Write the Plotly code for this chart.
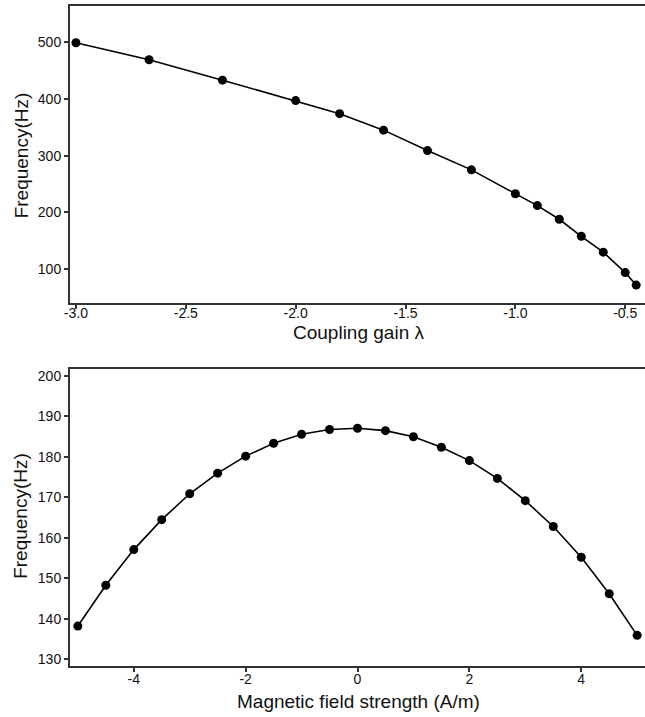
import plotly.graph_objects as go

# Frequency vs coupling gain
gain = [-3.0, -2.667, -2.333, -2.0, -1.8, -1.6, -1.4, -1.2, -1.0, -0.9, -0.8, -0.7, -0.6, -0.5, -0.45]
freq_gain = [499, 469, 433, 397, 374, 345, 309, 275, 233, 212, 188, 158, 130, 94, 72]

# Frequency vs magnetic field strength
field = [-5, -4.5, -4, -3.5, -3, -2.5, -2, -1.5, -1, -0.5, 0, 0.5, 1, 1.5, 2, 2.5, 3, 3.5, 4, 4.5, 5]
freq_field = [138.2, 148.3, 157.1, 164.5, 170.9, 176.0, 180.2, 183.4, 185.6, 186.8, 187.1,
              186.5, 185.0, 182.4, 179.1, 174.7, 169.2, 162.8, 155.2, 146.2, 135.9]

W, H = 645, 717
FONT = "Liberation Sans, Arial, sans-serif"
AX = "#333333"

fig = go.Figure()
fig.add_trace(go.Scatter(x=gain, y=freq_gain, mode="lines+markers",
                         line=dict(color="black", width=1.6),
                         marker=dict(color="black", size=9),
                         xaxis="x", yaxis="y", showlegend=False))
fig.add_trace(go.Scatter(x=field, y=freq_field, mode="lines+markers",
                         line=dict(color="black", width=1.6),
                         marker=dict(color="black", size=9),
                         xaxis="x2", yaxis="y2", showlegend=False))

def pxy(p):
    return 1 - p / H

common = dict(showgrid=False, zeroline=False, showline=True, linecolor=AX, linewidth=2,
              ticks="outside", ticklen=4, tickwidth=1.5, tickcolor=AX,
              tickfont=dict(family=FONT, size=14, color="#111"))

fig.update_layout(
    width=W, height=H,
    margin=dict(l=70, r=0, t=0, b=0),
    plot_bgcolor="white", paper_bgcolor="white",
    xaxis=dict(domain=[0, 1], anchor="y", range=[-3.027, -0.41],
               tickvals=[-3.0, -2.5, -2.0, -1.5, -1.0, -0.5],
               ticktext=["-3.0", "-2.5", "-2.0", "-1.5", "-1.0", "-0.5"],
               mirror=True, ticklabelstandoff=-8, **common),
    yaxis=dict(domain=[pxy(303.3), pxy(5)], anchor="x", range=[40.4, 563.7],
               tickvals=[100, 200, 300, 400, 500], **common),
    xaxis2=dict(domain=[0, 1], anchor="y2", range=[-5.14, 5.14],
                tickvals=[-4, -2, 0, 2, 4], ticktext=["-4", "-2", "0", "2", "4"],
                mirror=True, ticklabelstandoff=-4, **common),
    yaxis2=dict(domain=[pxy(667.3), pxy(369.3)], anchor="x2", range=[128.45, 201.8],
                tickvals=[130, 140, 150, 160, 170, 180, 190, 200], **common),
)

title_font = dict(family=FONT, size=19, color="#111")
ann = [
    dict(text="Frequency(Hz)", x=-49, y=pxy(155), textangle=-90),
    dict(text="Frequency(Hz)", x=-49, y=pxy(517), textangle=-90),
    dict(text="Coupling gain λ", x=288, y=pxy(333), textangle=0),
    dict(text="Magnetic field strength (A/m)", x=288, y=pxy(703), textangle=0),
]
for a in ann:
    fig.add_annotation(text=a["text"], x=a["x"] / (W - 70), y=a["y"], xref="paper", yref="paper",
                       xanchor="center", yanchor="middle", textangle=a["textangle"],
                       showarrow=False, font=title_font)

fig.write_html("out.html")
